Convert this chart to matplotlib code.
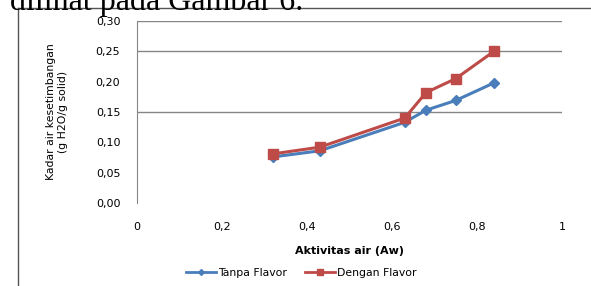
import matplotlib.pyplot as plt
from matplotlib.lines import Line2D

# data
aw = [0.32, 0.43, 0.63, 0.68, 0.75, 0.84]
tanpa_flavor = [0.076, 0.086, 0.133, 0.153, 0.169, 0.198]
dengan_flavor = [0.081, 0.092, 0.140, 0.182, 0.205, 0.250]
yticks = [0.0, 0.05, 0.10, 0.15, 0.20, 0.25, 0.30]
xticks = [0, 0.2, 0.4, 0.6, 0.8, 1]
grid_levels = [0.15, 0.25, 0.30]   # only these gridlines show in the scan

blue = '#4a7ebb'
red = '#be4b48'

fig = plt.figure(figsize=(5.91, 2.86), dpi=100)
ax = fig.add_axes([0.2318, 0.2902, 0.7191, 0.6364])

ax.plot(aw, tanpa_flavor, color=blue, lw=2.2, marker='D', ms=5, label='Tanpa Flavor')
ax.plot(aw, dengan_flavor, color=red, lw=2.2, marker='s', ms=7, label='Dengan Flavor')

for g in grid_levels:
    ax.axhline(g, color='#868686', lw=1, zorder=0)

ax.set_xlim(0, 1)
ax.set_ylim(0, 0.30)
ax.set_xticks(xticks)
ax.set_xticklabels(['0', '0,2', '0,4', '0,6', '0,8', '1'], fontsize=8)
ax.set_yticks(yticks)
ax.set_yticklabels([('%.2f' % v).replace('.', ',') for v in yticks], fontsize=8)
ax.tick_params(length=0, pad=12)
ax.tick_params(axis='x', pad=14)

for s in ['top', 'right', 'bottom']:
    ax.spines[s].set_visible(False)
ax.spines['left'].set_color('#868686')

ax.set_xlabel('Aktivitas air (Aw)', fontsize=8, fontweight='bold', labelpad=10)
ax.set_ylabel('Kadar air kesetimbangan\n(g H2O/g solid)', fontsize=7.8, labelpad=20)

handles = [Line2D([], [], color=blue, lw=2, marker='D', ms=3),
           Line2D([], [], color=red, lw=2, marker='s', ms=5)]
fig.legend(handles, ['Tanpa Flavor', 'Dengan Flavor'], loc='center',
           bbox_to_anchor=(0.51, 0.046), ncol=2, frameon=False, fontsize=7.8,
           handlelength=2.8, columnspacing=1.6, handletextpad=0.2)

# chart frame and clipped caption above it
fig.add_artist(Line2D([18/591, 18/591], [0, 1 - 8/286], transform=fig.transFigure,
                      color='#555555', lw=1))
fig.add_artist(Line2D([18/591, 1], [1 - 8/286, 1 - 8/286], transform=fig.transFigure,
                      color='#555555', lw=1))
fig.text(10/591, 1 - 10/286, 'dilihat pada Gambar 6.', family='Liberation Serif',
         fontsize=23, va='baseline', ha='left')

plt.savefig('out.png', dpi=100)
